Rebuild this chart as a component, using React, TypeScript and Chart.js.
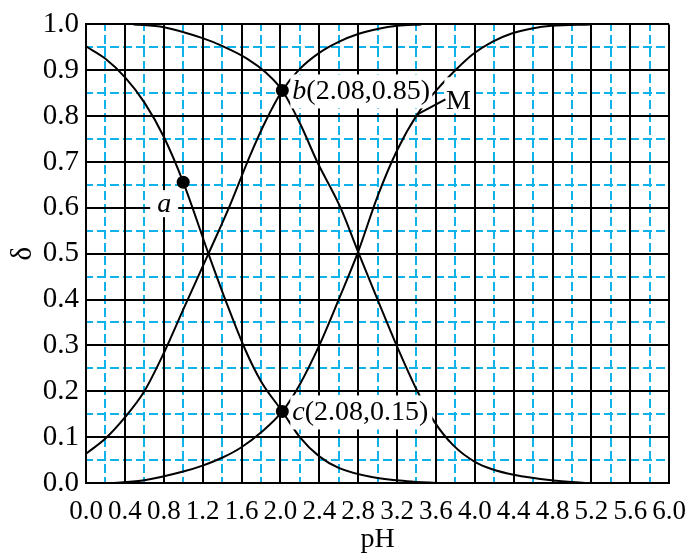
import React, { useEffect, useRef } from "react";
import { Chart, registerables } from "chart.js";

Chart.register(...registerables);

const FONT = '"Liberation Serif", "Times New Roman", Times, serif';
const BLUE = "#10b2ea";

// axis / grid definitions
const xMin = 0;
const xMax = 6;
const xStep = 0.4;
const yMin = 0;
const yMax = 1;
const yStep = 0.1;
const blueXTicks = [0.2, 0.6, 1.0, 1.4, 1.8, 2.2, 2.6, 3.0, 3.4, 3.8, 4.2, 4.6, 5.0, 5.4, 5.8];
const blueYTicks = [0.05, 0.15, 0.25, 0.35, 0.45, 0.55, 0.65, 0.75, 0.85, 0.95];

// curve starting at 0.95 and falling (through a and c)
const curve1X = [0, 0.2, 0.4, 0.6, 0.8, 1.0, 1.26, 1.44, 1.64, 1.8, 2.02, 2.2, 2.4, 2.6, 2.94, 3.3, 3.65];
const curve1Y = [0.952, 0.925, 0.885, 0.83, 0.755, 0.656, 0.5, 0.396, 0.29, 0.222, 0.156, 0.1, 0.058, 0.033, 0.013, 0.004, 0.0];

// curve starting near 0.06 and rising (through b)
const curve3X = [0, 0.2, 0.4, 0.6, 0.8, 1.0, 1.26, 1.47, 1.69, 1.85, 2.02, 2.2, 2.4, 2.6, 2.8, 3.0, 3.2, 3.45];
const curve3Y = [0.064, 0.097, 0.143, 0.2, 0.283, 0.378, 0.5, 0.6, 0.715, 0.79, 0.856, 0.903, 0.938, 0.962, 0.979, 0.99, 0.997, 1.0];

// curve starting at 1.0 and falling (through b)
const curve4X = [0.49, 0.8, 1.2, 1.4, 1.66, 1.85, 2.02, 2.2, 2.38, 2.62, 2.8, 3.0, 3.2, 3.41, 3.58, 3.78, 4.01, 4.18, 4.4, 4.79, 5.16];
const curve4Y = [1.0, 0.994, 0.97, 0.953, 0.925, 0.895, 0.856, 0.785, 0.7, 0.6, 0.504, 0.4, 0.298, 0.2, 0.135, 0.082, 0.045, 0.03, 0.018, 0.006, 0.0];

// curve rising from 0 (through c and M)
const curve2X = [0.28, 0.6, 1.0, 1.2, 1.4, 1.6, 1.8, 2.02, 2.2, 2.4, 2.6, 2.8, 3.0, 3.2, 3.41, 3.6, 3.8, 3.98, 4.18, 4.38, 4.59, 4.79, 5.19];
const curve2Y = [0.0, 0.006, 0.025, 0.038, 0.055, 0.078, 0.11, 0.156, 0.215, 0.3, 0.4, 0.504, 0.625, 0.725, 0.804, 0.855, 0.9, 0.935, 0.962, 0.98, 0.991, 0.997, 1.0];

// marked points a, b, c
const markNames = ["a", "b", "c"];
const markX = [1.0, 2.02, 2.02];
const markY = [0.656, 0.856, 0.156];
const markText = ["", "(2.08,0.85)", "(2.08,0.15)"];

// label M on the rising curve
const mLabel = "M";
const mX = 3.41;
const mY = 0.804;

const toPts = (xs: number[], ys: number[]) => xs.map((x, i) => ({ x, y: ys[i] }));

const curveStyle = {
  borderColor: "#000",
  borderWidth: 2,
  pointRadius: 0,
  fill: false,
  cubicInterpolationMode: "monotone" as const,
};

const labelsPlugin = {
  id: "labelsPlugin",
  afterDatasetsDraw(chart: any) {
    const { ctx } = chart;
    const xs = chart.scales.x;
    const ys = chart.scales.y;
    ctx.save();
    ctx.textBaseline = "middle";
    ctx.fillStyle = "#000";

    // a
    {
      const px = xs.getPixelForValue(markX[0]);
      const py = ys.getPixelForValue(markY[0]);
      ctx.fillStyle = "#fff";
      ctx.fillRect(px - 33, py + 8, 28, 27);
      ctx.fillStyle = "#000";
      ctx.font = `italic 28px ${FONT}`;
      ctx.textAlign = "center";
      ctx.fillText(markNames[0], px - 19, py + 22);
    }
    // b and c
    for (let i = 1; i < 3; i++) {
      const px = xs.getPixelForValue(markX[i]);
      const py = ys.getPixelForValue(markY[i]);
      ctx.fillStyle = "#fff";
      ctx.fillRect(px + 8, py - 16, 142, 34);
      ctx.fillStyle = "#000";
      ctx.textAlign = "left";
      ctx.font = `italic 28px ${FONT}`;
      ctx.fillText(markNames[i], px + 10, py + 1);
      const w = ctx.measureText(markNames[i]).width;
      ctx.font = `28px ${FONT}`;
      ctx.fillText(markText[i], px + 10 + w, py + 1);
    }
    // M
    {
      const px = xs.getPixelForValue(mX);
      const py = ys.getPixelForValue(mY);
      ctx.fillStyle = "#fff";
      ctx.fillRect(px + 27, py - 37, 28, 36);
      ctx.strokeStyle = "#000";
      ctx.lineWidth = 2;
      ctx.beginPath();
      ctx.moveTo(px, py);
      ctx.lineTo(px + 28, py - 15);
      ctx.stroke();
      ctx.fillStyle = "#000";
      ctx.font = `28px ${FONT}`;
      ctx.textAlign = "center";
      ctx.fillText(mLabel, px + 41, py - 13);
    }
    ctx.restore();
  },
};

export default function App() {
  const ref = useRef<HTMLCanvasElement | null>(null);

  useEffect(() => {
    document.body.style.margin = "0";
    const canvas = ref.current;
    if (!canvas) return;
    const chart = new Chart(canvas, {
      type: "line",
      data: {
        datasets: [
          { ...curveStyle, data: toPts(curve1X, curve1Y) },
          { ...curveStyle, data: toPts(curve3X, curve3Y) },
          { ...curveStyle, data: toPts(curve4X, curve4Y) },
          { ...curveStyle, data: toPts(curve2X, curve2Y) },
          {
            data: toPts(markX, markY),
            showLine: false,
            pointRadius: 6.5,
            pointBackgroundColor: "#000",
            pointBorderWidth: 0,
            borderColor: "#000",
          },
        ],
      },
      options: {
        responsive: false,
        animation: false,
        events: [],
        layout: { padding: { left: 0, top: 21, right: 19, bottom: 0 } },
        plugins: { legend: { display: false }, tooltip: { enabled: false } },
        scales: {
          x2: {
            type: "linear",
            position: "top",
            min: xMin,
            max: xMax,
            afterBuildTicks: (s: any) => {
              s.ticks = blueXTicks.map((v) => ({ value: v }));
            },
            afterFit: (s: any) => {
              s.height = 0;
            },
            ticks: { display: false },
            grid: { color: BLUE, lineWidth: 2, drawTicks: false, z: -2 },
            border: { display: false, dash: [9, 4], dashOffset: 2 },
          },
          y2: {
            type: "linear",
            position: "right",
            min: yMin,
            max: yMax,
            afterBuildTicks: (s: any) => {
              s.ticks = blueYTicks.map((v) => ({ value: v }));
            },
            afterFit: (s: any) => {
              s.width = 0;
            },
            ticks: { display: false },
            grid: { color: BLUE, lineWidth: 2, drawTicks: false, z: -2 },
            border: { display: false, dash: [9, 4], dashOffset: 2 },
          },
          x: {
            type: "linear",
            position: "bottom",
            min: xMin,
            max: xMax,
            afterFit: (s: any) => {
              s.height = 75;
            },
            ticks: {
              stepSize: xStep,
              autoSkip: false,
              maxRotation: 0,
              minRotation: 0,
              padding: 13,
              color: "#000",
              font: { family: FONT, size: 27 },
              callback: (v: any) => Number(v).toFixed(1),
            },
            grid: { color: "#000", lineWidth: 2, drawTicks: false, z: -1 },
            border: { color: "#000", width: 2 },
            title: {
              display: true,
              text: "pH",
              color: "#000",
              font: { family: FONT, size: 28 },
              padding: { top: 0, bottom: 2 },
            },
          },
          y: {
            type: "linear",
            position: "left",
            min: yMin,
            max: yMax,
            afterFit: (s: any) => {
              s.width = 86;
            },
            ticks: {
              stepSize: yStep,
              autoSkip: false,
              padding: 7,
              color: "#000",
              font: { family: FONT, size: 29 },
              callback: (v: any) => Number(v).toFixed(1),
            },
            grid: { color: "#000", lineWidth: 2, drawTicks: false, z: -1 },
            border: { color: "#000", width: 2 },
            title: {
              display: true,
              text: "δ",
              color: "#000",
              font: { family: FONT, size: 29 },
              padding: { top: 6, bottom: 0 },
            },
          },
        },
      },
      plugins: [labelsPlugin],
    } as any);
    return () => chart.destroy();
  }, []);

  return <canvas ref={ref} width={699} height={558} style={{ display: "block" }} />;
}
